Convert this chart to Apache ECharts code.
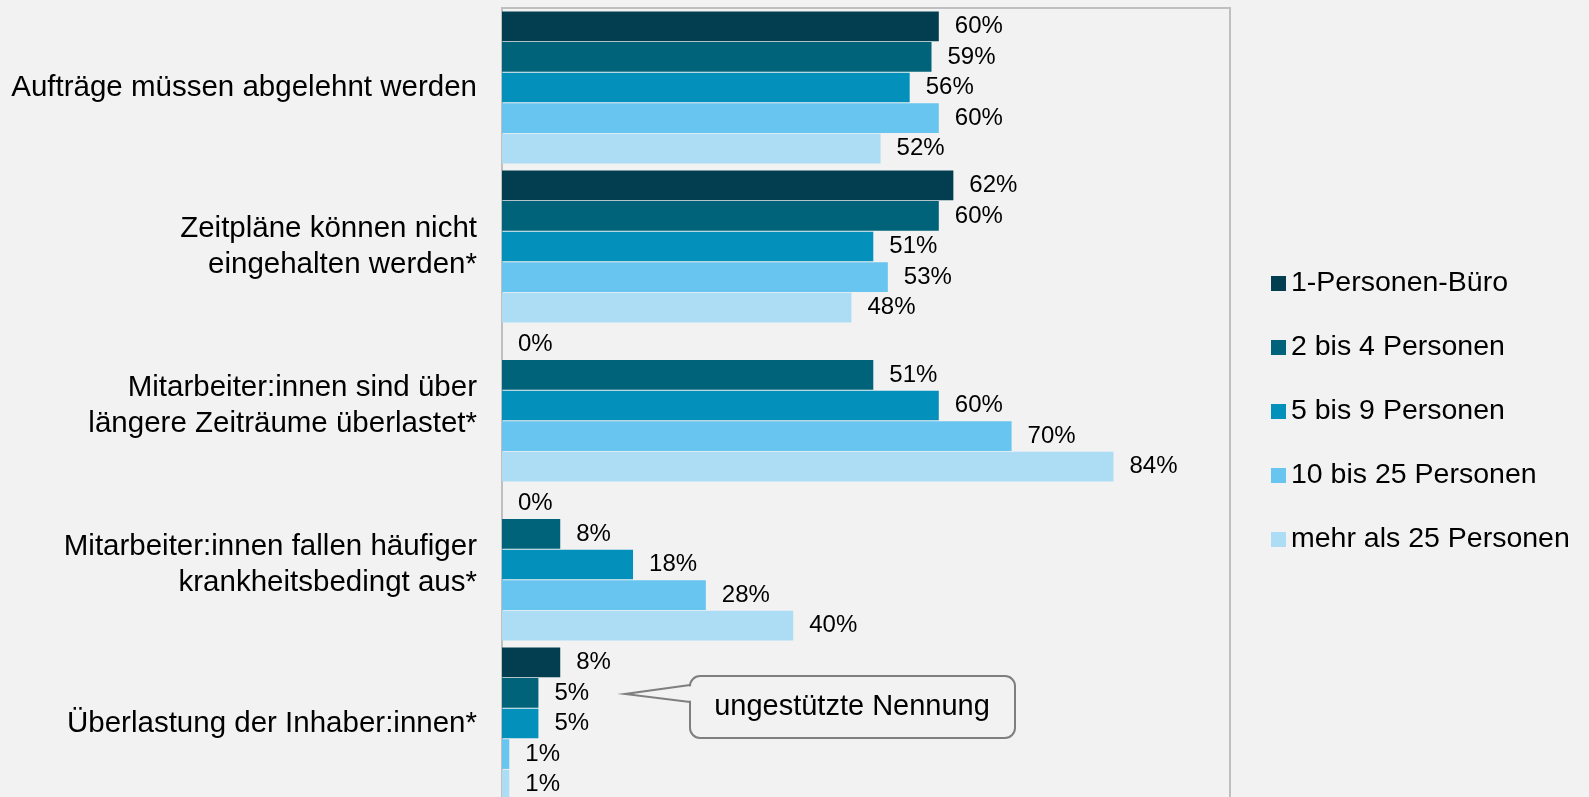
<!DOCTYPE html>
<html>
<head>
<meta charset="utf-8">
<script src="https://cdn.jsdelivr.net/npm/echarts@6/dist/echarts.min.js"></script>
<style>
html,body{margin:0;padding:0;background:#f2f2f2;overflow:hidden;}
#chart{width:1589px;height:810px;}
</style>
</head>
<body>
<div id="chart"></div>
<script>
const categories = [
  "Aufträge müssen abgelehnt werden",
  "Zeitpläne können nicht\neingehalten werden*",
  "Mitarbeiter:innen sind über\nlängere Zeiträume überlastet*",
  "Mitarbeiter:innen fallen häufiger\nkrankheitsbedingt aus*",
  "Überlastung der Inhaber:innen*"
];
const seriesNames = ["1-Personen-Büro", "2 bis 4 Personen", "5 bis 9 Personen", "10 bis 25 Personen", "mehr als 25 Personen"];
const values1 = [60, 62, 0, 0, 8];
const values2 = [59, 60, 51, 8, 5];
const values3 = [56, 51, 60, 18, 5];
const values4 = [60, 53, 70, 28, 1];
const values5 = [52, 48, 84, 40, 1];
const colors = ["#023e50", "#006379", "#0391bc", "#68c5f0", "#addcf5"];
const calloutText = "ungestützte Nennung";

const allValues = [values1, values2, values3, values4, values5];
const FONT = "'Liberation Sans', Arial, sans-serif";

const chart = echarts.init(document.getElementById('chart'), null, {renderer: 'canvas'});
const series = seriesNames.map((name, i) => ({
  name: name,
  type: 'bar',
  data: allValues[i],
  barGap: '3%',
  barCategoryGap: 7,
  itemStyle: {color: colors[i]},
  label: {
    show: true,
    position: 'right',
    distance: 16,
    formatter: '{c}%',
    color: '#000',
    fontFamily: FONT,
    fontSize: 24
  },
  emphasis: {disabled: true},
  animation: false
}));

chart.setOption({
  backgroundColor: '#f2f2f2',
  animation: false,
  grid: {
    left: 502, width: 728, top: 8, height: 795,
    show: true, borderColor: '#bfbfbf', borderWidth: 2, backgroundColor: 'transparent'
  },
  legend: {
    orient: 'vertical',
    left: 1266,
    top: 264,
    icon: 'rect',
    itemWidth: 15,
    itemHeight: 15,
    itemGap: 35,
    selectedMode: false,
    textStyle: {fontFamily: FONT, fontSize: 28.5, color: '#000'},
    data: seriesNames
  },
  xAxis: {
    type: 'value', min: 0, max: 100,
    show: false,
    splitLine: {show: false}
  },
  yAxis: {
    type: 'category',
    data: categories,
    inverse: true,
    axisLine: {show: false},
    axisTick: {show: false},
    axisLabel: {
      margin: 25,
      fontFamily: FONT,
      fontSize: 29.5,
      lineHeight: 36,
      color: '#000',
      align: 'right'
    }
  },
  series: series,
  graphic: [
    {
      type: 'rect', z: 100,
      shape: {x: 690, y: 676, width: 325, height: 62, r: 10},
      style: {fill: '#f2f2f2', stroke: '#7f7f7f', lineWidth: 2}
    },
    {
      type: 'polygon', z: 101,
      shape: {points: [[693, 686], [625, 694], [693, 701]]},
      style: {fill: '#f2f2f2', stroke: null}
    },
    {
      type: 'polyline', z: 102,
      shape: {points: [[690, 685], [625, 694], [690, 702]]},
      style: {fill: null, stroke: '#7f7f7f', lineWidth: 2}
    },
    {
      type: 'text', z: 103,
      style: {
        x: 852, y: 707, text: calloutText,
        fontFamily: FONT, fontSize: 29, fill: '#000',
        align: 'center', verticalAlign: 'middle'
      }
    }
  ]
});
</script>
</body>
</html>
